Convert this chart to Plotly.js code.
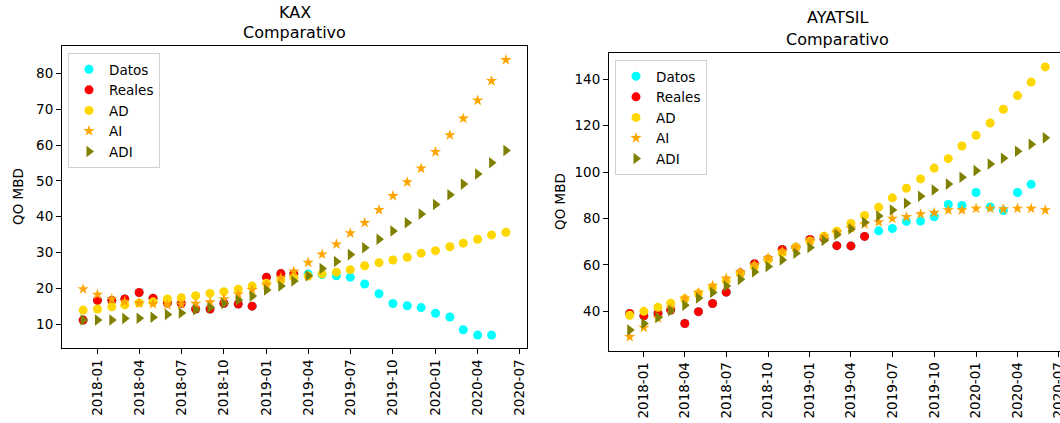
<!DOCTYPE html>
<html>
<head>
<meta charset="utf-8">
<script src="https://cdn.plot.ly/plotly-3.0.1.min.js"></script>
<style>html,body{margin:0;padding:0;background:#fff;}#chart{width:1060px;height:423px;}</style>
</head>
<body>
<div id="chart"></div>
<script>
// Months (first day of each month)
const months = ["2017-12-01","2018-01-01","2018-02-01","2018-03-01","2018-04-01","2018-05-01","2018-06-01","2018-07-01","2018-08-01","2018-09-01","2018-10-01","2018-11-01","2018-12-01","2019-01-01","2019-02-01","2019-03-01","2019-04-01","2019-05-01","2019-06-01","2019-07-01","2019-08-01","2019-09-01","2019-10-01","2019-11-01","2019-12-01","2020-01-01","2020-02-01","2020-03-01","2020-04-01","2020-05-01","2020-06-01"];

// KAX
const kaxDatos  = [11.1,16.6,16.6,17.0,18.8,17.2,15.9,15.8,14.2,14.2,15.8,15.6,15.0,23.1,24.1,24.0,24.0,23.8,23.5,23.1,21.2,18.45,15.75,15.1,14.6,13.0,11.95,8.4,6.9,6.9,null];
const kaxReales = [11.1,16.6,16.6,17.0,18.8,17.2,15.9,15.8,14.2,14.2,15.8,15.6,15.0,23.1,24.1,24.0,null,null,null,null,null,null,null,null,null,null,null,null,null,null,null];
const kaxAD  = [13.9,14.2,14.8,15.35,15.9,16.2,17.0,17.35,17.9,18.55,19.05,19.75,20.6,21.4,22.3,23.1,23.4,24.0,24.5,25.2,26.3,27.15,27.9,28.65,29.8,30.5,31.6,32.6,33.7,34.9,35.65];
const kaxAI  = [19.76,18.25,17.0,16.3,15.85,15.6,15.3,15.5,15.7,16.1,17.0,18.3,19.55,21.0,22.9,24.7,27.2,29.5,32.3,35.4,38.3,41.9,45.8,49.65,53.5,58.1,62.8,67.45,72.5,77.95,83.8];
const kaxADI = [11.1,11.1,11.1,11.55,11.6,11.9,12.65,13.1,14.0,14.6,15.75,16.7,17.8,19.5,20.6,22.05,23.5,25.5,27.5,29.4,31.3,33.7,36.0,38.3,40.75,43.4,46.1,49.1,51.9,55.1,58.5];

// AYATSIL
const ayaDatos  = [39.1,38.1,39.1,40.6,34.8,39.9,43.4,48.3,56.5,60.5,62.5,66.7,67.6,71.0,71.5,68.3,68.2,72.3,74.7,75.7,78.75,78.9,80.75,86.05,85.6,91.2,85.0,83.45,91.2,94.7,null];
const ayaReales = [39.1,38.1,39.1,40.6,34.8,39.9,43.4,48.3,56.5,60.5,62.5,66.7,67.6,71.0,71.5,68.3,68.2,72.3,null,null,null,null,null,null,null,null,null,null,null,null,null];
const ayaAD  = [38.35,40.05,41.8,43.55,45.4,47.7,50.3,53.2,56.3,59.3,62.3,65.2,67.6,70.2,72.4,74.5,77.9,81.3,84.8,88.9,93.0,97.05,101.7,105.75,111.2,115.85,121.1,127.0,132.9,138.7,145.25];
const ayaAI  = [29.05,33.05,37.1,41.3,45.6,48.1,51.1,54.2,56.9,59.9,63.0,65.9,67.6,70.5,72.2,74.0,75.9,77.5,78.5,80.0,80.7,81.9,82.5,83.6,83.6,84.3,84.3,84.0,84.3,84.3,83.6];
const ayaADI = [32.0,34.8,37.35,40.35,42.7,45.75,48.2,51.0,53.8,56.95,59.35,62.1,65.0,67.5,70.5,73.1,75.5,78.4,81.1,83.7,86.6,89.6,92.3,94.8,97.75,100.6,103.5,105.95,108.9,111.95,114.7];

const seriesNames = ["Datos","Reales","AD","AI","ADI"];
const yTitle = "QO MBD";
const titles = [["KAX","Comparativo"],["AYATSIL","Comparativo"]];

const styles = [
  {color:"#00FFFF", symbol:"circle", size:9},
  {color:"#FF0000", symbol:"circle", size:9},
  {color:"#FFD700", symbol:"circle", size:9},
  {color:"#FFA500", symbol:"star", size:8.5},
  {color:"#808000", symbol:"triangle-right", size:10}
];

function mk(ys, i, xa, ya, lg) {
  return {
    x: months, y: ys, type: "scatter", mode: "markers", name: seriesNames[i],
    xaxis: xa, yaxis: ya, legend: lg,
    marker: {color: styles[i].color, symbol: styles[i].symbol, size: styles[i].size, line: {width: 0}},
    cliponaxis: true
  };
}

const data = [];
[kaxDatos,kaxReales,kaxAD,kaxAI,kaxADI].forEach((s,i)=>data.push(mk(s,i,"x","y","legend")));
[ayaDatos,ayaReales,ayaAD,ayaAI,ayaADI].forEach((s,i)=>data.push(mk(s,i,"x2","y2","legend2")));

const W = 1060, H = 423;
const fontFam = "DejaVu Sans, sans-serif";
const axCommon = {
  showgrid: false, zeroline: false, showline: true, mirror: true,
  linecolor: "#000", linewidth: 1, ticks: "outside", ticklen: 5, tickwidth: 1, tickcolor: "#000",
  tickfont: {family: fontFam, size: 13.5, color: "#000"}, automargin: false,
  ticklabeloverflow: "allow"
};
const xCommon = Object.assign({}, axCommon, {
  type: "date", tickformat: "%Y-%m", dtick: "M3", tick0: "2018-01-01", tickangle: -90
});

const layout = {
  width: W, height: H,
  margin: {l: 0, r: 0, t: 0, b: 0},
  paper_bgcolor: "#fff", plot_bgcolor: "#fff",
  font: {family: fontFam, size: 13.5, color: "#000"},
  xaxis: Object.assign({}, xCommon, {domain: [62/W, 527/W], range: ["2017-10-16 10:00", "2020-07-16 14:00"], anchor: "y"}),
  yaxis: Object.assign({}, axCommon, {domain: [1-348/H, 1-46/H], range: [3.3, 87.7], dtick: 10, tick0: 0, anchor: "x"}),
  xaxis2: Object.assign({}, xCommon, {domain: [609/W, 1], range: ["2017-10-16 10:00", "2020-07-03 10:00"], anchor: "y2"}),
  yaxis2: Object.assign({}, axCommon, {domain: [1-350.7/H, 1-53.3/H], range: [23.1, 151.1], dtick: 20, tick0: 0, anchor: "x2"}),
  legend: {x: 68/W, y: 1-53/H, xanchor: "left", yanchor: "top", bgcolor: "rgba(255,255,255,0.8)",
           bordercolor: "#d0d0d0", borderwidth: 1, font: {family: fontFam, size: 13.5, color: "#000"}},
  legend2: {x: 615/W, y: 1-60/H, xanchor: "left", yanchor: "top", bgcolor: "rgba(255,255,255,0.8)",
           bordercolor: "#d0d0d0", borderwidth: 1, font: {family: fontFam, size: 13.5, color: "#000"}},
  annotations: [
    {text: titles[0][0], xref: "paper", yref: "paper", x: 294.5/W, y: 1-12/H, xanchor: "center", yanchor: "middle", showarrow: false, font: {family: fontFam, size: 16, color: "#000"}},
    {text: titles[0][1], xref: "paper", yref: "paper", x: 294.5/W, y: 1-32/H, xanchor: "center", yanchor: "middle", showarrow: false, font: {family: fontFam, size: 16, color: "#000"}},
    {text: titles[1][0], xref: "paper", yref: "paper", x: 837.5/W, y: 1-18/H, xanchor: "center", yanchor: "middle", showarrow: false, font: {family: fontFam, size: 16, color: "#000"}},
    {text: titles[1][1], xref: "paper", yref: "paper", x: 837.5/W, y: 1-39/H, xanchor: "center", yanchor: "middle", showarrow: false, font: {family: fontFam, size: 16, color: "#000"}},
    {text: yTitle, xref: "paper", yref: "paper", x: 18/W, y: 1-197/H, xanchor: "center", yanchor: "middle", textangle: -90, showarrow: false, font: {family: fontFam, size: 13.5, color: "#000"}},
    {text: yTitle, xref: "paper", yref: "paper", x: 560/W, y: 1-202/H, xanchor: "center", yanchor: "middle", textangle: -90, showarrow: false, font: {family: fontFam, size: 13.5, color: "#000"}}
  ]
};

Plotly.newPlot("chart", data, layout, {displayModeBar: false, staticPlot: true});
</script>
</body>
</html>
